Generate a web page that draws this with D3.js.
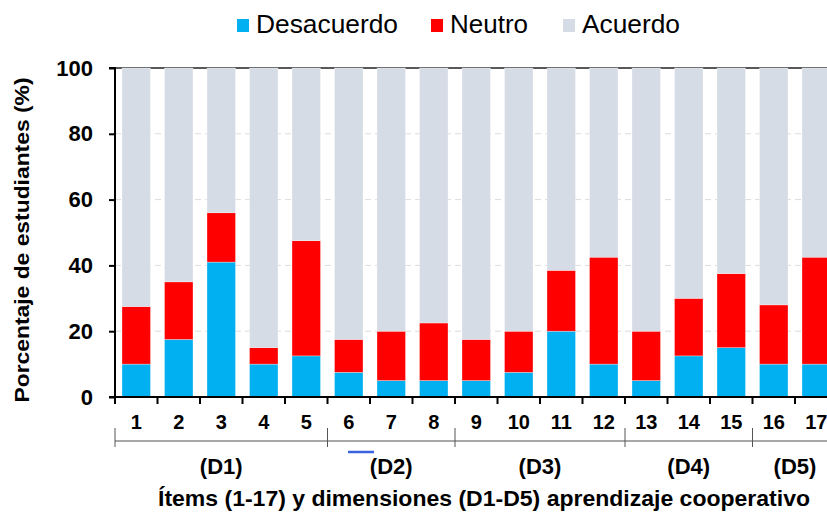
<!DOCTYPE html>
<html>
<head>
<meta charset="utf-8">
<script src="https://cdn.jsdelivr.net/npm/d3@7"></script>
<style>
  body { margin: 0; background: #fff; }
  svg { display: block; font-family: "Liberation Sans", Arial, sans-serif; }
</style>
</head>
<body>
<svg id="chart"></svg>
<script>
// data (% of students, n ~ 40)
let items = ["1", "2", "3", "4", "5", "6", "7", "8", "9", "10", "11", "12", "13", "14", "15", "16", "17"];
let desacuerdo = [10, 17.5, 41, 10, 12.5, 7.5, 5, 5, 5, 7.5, 20, 10, 5, 12.5, 15, 10, 10];
let neutro = [17.5, 17.5, 15, 5, 35, 10, 15, 17.5, 12.5, 12.5, 18.5, 32.5, 15, 17.5, 22.5, 18, 32.5];
let acuerdo = items.map((d, i) => 100 - desacuerdo[i] - neutro[i]);
let yTicks = [0, 20, 40, 60, 80, 100];
let groups = ["(D1)", "(D2)", "(D3)", "(D4)", "(D5)"];
let groupSizes = [5, 3, 4, 3, 2];
let seriesNames = ["Desacuerdo", "Neutro", "Acuerdo"];
let colors = ["#00B0F0", "#FF0000", "#D6DCE5"];

let width = 827, height = 515;
let plotLeft = 115, plotTop = 68, plotBottom = 397;
let step = 42.5;

let svg = d3.select("#chart").attr("width", width).attr("height", height);

let x = d3.scaleBand()
  .domain(items)
  .range([plotLeft, plotLeft + step * items.length])
  .paddingInner(0.33)
  .paddingOuter(0.165);

let y = d3.scaleLinear().domain([0, 100]).range([plotBottom, plotTop]);

let rows = items.map((d, i) => ({
  item: d,
  Desacuerdo: desacuerdo[i],
  Neutro: neutro[i],
  Acuerdo: acuerdo[i]
}));
let stacked = d3.stack().keys(seriesNames)(rows);

let xEnd = x.range()[1];

// gridlines
svg.append("g")
  .selectAll("line")
  .data(yTicks.filter((t) => t > 0 && t < 100))
  .enter()
  .append("line")
  .attr("x1", plotLeft)
  .attr("x2", xEnd)
  .attr("y1", (d) => y(d))
  .attr("y2", (d) => y(d))
  .attr("stroke", "#dcdcdc")
  .attr("stroke-width", 1)
  .attr("stroke-dasharray", "6,4");

// top border at 100
svg.append("line")
  .attr("x1", plotLeft).attr("x2", xEnd)
  .attr("y1", y(100)).attr("y2", y(100))
  .attr("stroke", "#222").attr("stroke-width", 1.5);

// bars
svg.append("g")
  .selectAll("g")
  .data(stacked)
  .enter()
  .append("g")
  .attr("fill", (d, i) => colors[i])
  .selectAll("rect")
  .data((d) => d)
  .enter()
  .append("rect")
  .attr("x", (d) => x(d.data.item))
  .attr("width", x.bandwidth())
  .attr("y", (d) => y(d[1]))
  .attr("height", (d) => y(d[0]) - y(d[1]))
  .attr("stroke", "#ffffff")
  .attr("stroke-opacity", 0.5)
  .attr("stroke-width", 0.6);

// y axis
let yAxis = d3.axisLeft(y).tickValues(yTicks).tickSize(6).tickPadding(16);
let yg = svg.append("g").attr("transform", `translate(${plotLeft},0)`).call(yAxis);
yg.select(".domain").attr("stroke", "#000").attr("stroke-width", 2).attr("d", `M-6,${plotTop}H0V${plotBottom}H-6`);
yg.selectAll(".tick line").attr("stroke", "#000").attr("stroke-width", 2);
yg.selectAll(".tick text")
  .attr("font-size", 22)
  .attr("font-weight", "bold")
  .attr("fill", "#000")
  .attr("font-family", "Liberation Sans, Arial, sans-serif");

// x axis line and boundary ticks
svg.append("line")
  .attr("x1", plotLeft).attr("x2", xEnd)
  .attr("y1", plotBottom).attr("y2", plotBottom)
  .attr("stroke", "#000").attr("stroke-width", 2);

let boundaries = items.map((d) => x(d) - x.step() * x.paddingInner() / 2);
boundaries.push(xEnd);
svg.append("g")
  .selectAll("line")
  .data(boundaries)
  .enter()
  .append("line")
  .attr("x1", (d) => d).attr("x2", (d) => d)
  .attr("y1", plotBottom).attr("y2", plotBottom + 7)
  .attr("stroke", "#000").attr("stroke-width", 2);

// item labels
svg.append("g")
  .selectAll("text")
  .data(items)
  .enter()
  .append("text")
  .attr("x", (d) => x(d) + x.bandwidth() / 2)
  .attr("y", 429)
  .attr("text-anchor", "middle")
  .attr("font-size", 20)
  .attr("font-weight", "bold")
  .text((d) => d);

// dimension brackets
let groupEdges = [0];
groupSizes.forEach((s) => groupEdges.push(groupEdges[groupEdges.length - 1] + s));
let edgeX = groupEdges.map((k) => plotLeft + k * x.step());

svg.append("line")
  .attr("x1", plotLeft).attr("x2", xEnd)
  .attr("y1", 441).attr("y2", 441)
  .attr("stroke", "#8a8a8a").attr("stroke-width", 1.5);

svg.append("g")
  .selectAll("line")
  .data(edgeX.slice(0, groups.length))
  .enter()
  .append("line")
  .attr("x1", (d) => d).attr("x2", (d) => d)
  .attr("y1", 428).attr("y2", 447)
  .attr("stroke", "#555").attr("stroke-width", 1);

svg.append("g")
  .selectAll("text")
  .data(groups)
  .enter()
  .append("text")
  .attr("x", (d, i) => (edgeX[i] + edgeX[i + 1]) / 2)
  .attr("y", 474)
  .attr("text-anchor", "middle")
  .attr("font-size", 22)
  .attr("font-weight", "bold")
  .text((d) => d);

// stray blue mark next to (D2)
svg.append("line")
  .attr("x1", 348).attr("x2", 374)
  .attr("y1", 452).attr("y2", 452)
  .attr("stroke", "#3a63e0").attr("stroke-width", 2.5);

// axis titles
svg.append("text")
  .attr("x", 484)
  .attr("y", 506)
  .attr("text-anchor", "middle")
  .attr("font-size", 22)
  .attr("font-weight", "bold")
  .attr("textLength", 652)
  .attr("lengthAdjust", "spacingAndGlyphs")
  .text("Ítems (1-17) y dimensiones (D1-D5) aprendizaje cooperativo");

svg.append("text")
  .attr("transform", "translate(29,240) rotate(-90)")
  .attr("text-anchor", "middle")
  .attr("font-size", 20)
  .attr("font-weight", "bold")
  .attr("textLength", 325)
  .attr("lengthAdjust", "spacingAndGlyphs")
  .text("Porcentaje de estudiantes (%)");

// legend
let legendX = [237, 431, 563];
let legendW = [142, 78, 98];
let legend = svg.append("g")
  .selectAll("g")
  .data(seriesNames)
  .enter()
  .append("g")
  .attr("transform", (d, i) => `translate(${legendX[i]},0)`);
legend.append("rect")
  .attr("x", 0).attr("y", 19)
  .attr("width", 12).attr("height", 13)
  .attr("fill", (d, i) => colors[i]);
legend.append("text")
  .attr("x", 19)
  .attr("y", 33)
  .attr("font-size", 25)
  .attr("textLength", (d, i) => legendW[i])
  .attr("lengthAdjust", "spacingAndGlyphs")
  .text((d) => d);
</script>
</body>
</html>
